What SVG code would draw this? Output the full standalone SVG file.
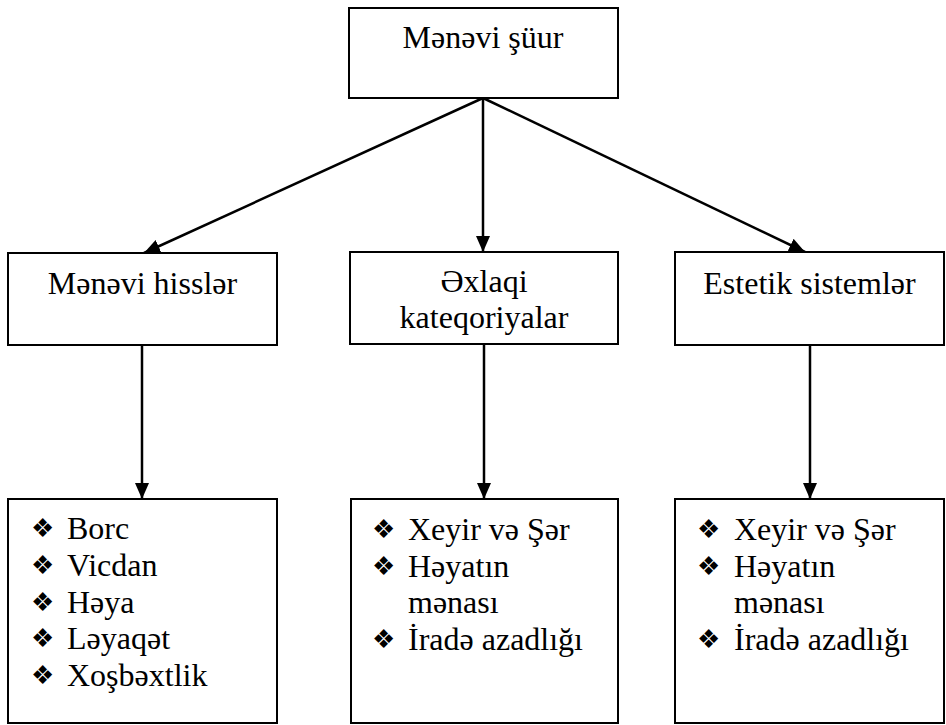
<svg xmlns="http://www.w3.org/2000/svg" width="946" height="725" viewBox="0 0 946 725">
<style>
.box{fill:#fff;stroke:#000;stroke-width:2}
.ln{stroke:#000;stroke-width:2.5;fill:none;marker-end:url(#ah)}
</style>
<defs>
<marker id="ah" markerWidth="16" markerHeight="14" refX="16" refY="7" orient="auto" markerUnits="userSpaceOnUse">
<path d="M0,0 L16,7 L0,14 Z" fill="#000"/>
</marker>
</defs>
<g id="connectors">
<line class="ln" x1="483" y1="98" x2="144" y2="253"/>
<line class="ln" x1="483" y1="98" x2="483" y2="252"/>
<line class="ln" x1="483" y1="98" x2="805" y2="252"/>
<line class="ln" x1="142" y1="345" x2="142" y2="499"/>
<line class="ln" x1="484" y1="344" x2="484" y2="499"/>
<line class="ln" x1="810" y1="345" x2="810" y2="499"/>
</g>
<g id="root">
<rect class="box" x="349" y="8" width="269" height="90"/>
<text font-family="Times New Roman" font-size="32" text-anchor="middle" x="483" y="48">Mənəvi şüur</text>
</g>
<g id="n1">
<rect class="box" x="8" y="253" width="269" height="92"/>
<text font-family="Times New Roman" font-size="32" text-anchor="middle" x="142.5" y="294">Mənəvi hisslər</text>
</g>
<g id="n2">
<rect class="box" x="350" y="252" width="268" height="92"/>
<text font-family="Times New Roman" font-size="32" text-anchor="middle" x="484" y="292">Əxlaqi</text>
<text font-family="Times New Roman" font-size="32" text-anchor="middle" x="484" y="328">kateqoriyalar</text>
</g>
<g id="n3">
<rect class="box" x="675" y="252" width="269" height="93"/>
<text font-family="Times New Roman" font-size="32" text-anchor="middle" x="809.5" y="294">Estetik sistemlər</text>
</g>
<g id="l1">
<rect class="box" x="8" y="499" width="269" height="224"/>
<text font-family="DejaVu Sans" font-size="26" x="31" y="537">❖</text><text font-family="Times New Roman" font-size="32" x="67" y="539">Borc</text>
<text font-family="DejaVu Sans" font-size="26" x="31" y="574">❖</text><text font-family="Times New Roman" font-size="32" x="67" y="576">Vicdan</text>
<text font-family="DejaVu Sans" font-size="26" x="31" y="611">❖</text><text font-family="Times New Roman" font-size="32" x="67" y="613">Həya</text>
<text font-family="DejaVu Sans" font-size="26" x="31" y="647">❖</text><text font-family="Times New Roman" font-size="32" x="67" y="649">Ləyaqət</text>
<text font-family="DejaVu Sans" font-size="26" x="31" y="684">❖</text><text font-family="Times New Roman" font-size="32" x="67" y="686">Xoşbəxtlik</text>
</g>
<g id="l2">
<rect class="box" x="351" y="499" width="267" height="224"/>
<text font-family="DejaVu Sans" font-size="26" x="372" y="538">❖</text><text font-family="Times New Roman" font-size="32" x="408" y="540">Xeyir və Şər</text>
<text font-family="DejaVu Sans" font-size="26" x="372" y="575">❖</text><text font-family="Times New Roman" font-size="32" x="408" y="577">Həyatın</text>
<text font-family="Times New Roman" font-size="32" x="408" y="613">mənası</text>
<text font-family="DejaVu Sans" font-size="26" x="372" y="648">❖</text><text font-family="Times New Roman" font-size="32" x="408" y="650">İradə azadlığı</text>
</g>
<g id="l3">
<rect class="box" x="675" y="499" width="269" height="224"/>
<text font-family="DejaVu Sans" font-size="26" x="697" y="538">❖</text><text font-family="Times New Roman" font-size="32" x="734" y="540">Xeyir və Şər</text>
<text font-family="DejaVu Sans" font-size="26" x="697" y="575">❖</text><text font-family="Times New Roman" font-size="32" x="734" y="577">Həyatın</text>
<text font-family="Times New Roman" font-size="32" x="734" y="613">mənası</text>
<text font-family="DejaVu Sans" font-size="26" x="697" y="648">❖</text><text font-family="Times New Roman" font-size="32" x="734" y="650">İradə azadlığı</text>
</g>
</svg>
